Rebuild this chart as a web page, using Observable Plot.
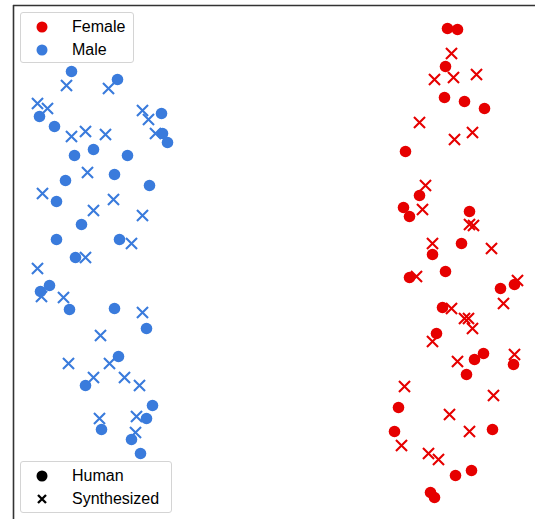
<!DOCTYPE html>
<html>
<head>
<meta charset="utf-8">
<script src="https://cdn.jsdelivr.net/npm/d3@7"></script>
<script src="https://cdn.jsdelivr.net/npm/@observablehq/plot@0.6"></script>
<style>
  html, body { margin: 0; padding: 0; background: #fff; }
  #wrap { position: relative; width: 535px; height: 519px; font-family: "Liberation Sans", Arial, sans-serif; }
  .legend { position: absolute; background: rgba(255,255,255,0.85); border: 1px solid #d4d4d4; border-radius: 3px; box-sizing: border-box; }
  .item { position: absolute; left: 0; height: 24px; display: flex; align-items: center; font-size: 16px; color: #000; white-space: nowrap; }
  .item svg { margin-left: 15px; margin-right: 24px; }
</style>
</head>
<body>
<div id="wrap"></div>
<script>
// Category labels
const genders = ["Female", "Male"];
const sources = ["Human", "Synthesized"];
const genderColors = ["#e60000", "#3a7bdc"];

// Embedding positions (x, y in plot units, y increases downward)
const maleHuman = [
  [71,71],[117,79],[39,116],[54,126],[161,113],[162,133],[167,142],[74,155],[93,149],[127,155],
  [114,174],[65,180],[149,185],[56,201],[81,224],[56,239],[119,239],[75,257],
  [40,291],[49,285],[69,309],[114,308],[146,328],[118,356],[85,385],[152,405],[146,418],
  [101,429],[131,439],[140,453]
];
const maleSynth = [
  [66,85],[108,88],[37,103],[47,108],[142,110],[148,119],[71,136],[85,131],[105,134],[155,133],
  [87,172],[42,193],[113,199],[93,210],[142,215],[131,243],[85,257],
  [37,268],[41,296],[63,297],[142,312],[100,335],[68,363],[109,363],[93,377],[124,377],[139,385],
  [99,418],[136,416],[135,432]
];
const femaleHuman = [
  [447,28],[457,29],[445,66],[444,97],[464,101],[484,108],[405,151],[419,195],[403,207],[409,216],
  [469,211],[461,243],[432,254],
  [409,277],[445,271],[500,288],[514,284],[442,307],[436,333],[483,353],[474,359],[513,364],
  [466,374],[398,407],[394,431],[492,429],[455,475],[471,470],[430,492],[434,497]
];
const femaleSynth = [
  [451,53],[434,79],[453,77],[476,74],[419,122],[454,139],[472,132],[425,185],[422,209],[469,224],
  [473,225],[432,243],[491,248],
  [416,276],[517,280],[503,303],[451,308],[464,318],[468,318],[472,328],[432,341],[457,361],[514,354],
  [404,386],[493,395],[449,414],[469,431],[401,445],[428,453],[438,459]
];

const toRows = (arr, gender, source) => arr.map(([x, y]) => ({x, y, gender, source}));
const humans = [...toRows(maleHuman, "Male", "Human"), ...toRows(femaleHuman, "Female", "Human")];
const synths = [...toRows(maleSynth, "Male", "Synthesized"), ...toRows(femaleSynth, "Female", "Synthesized")];

const W = 535, H = 519;
const chart = Plot.plot({
  width: W, height: H,
  marginLeft: 13, marginTop: 5, marginRight: 0, marginBottom: 0,
  x: {domain: [13, W], range: [13, W], axis: null},
  y: {domain: [5, H], range: [5, H], axis: null},
  color: {domain: genders, range: genderColors},
  marks: [
    Plot.ruleY([5], {stroke: "#333", strokeWidth: 1.6}),
    Plot.ruleX([13], {stroke: "#333", strokeWidth: 1.6}),
    Plot.dot(humans, {x: "x", y: "y", fill: "gender", r: 5.8, symbol: "circle"}),
    Plot.dot(synths, {x: "x", y: "y", stroke: "gender", r: 5.1, symbol: "times", strokeWidth: 2.1})
  ]
});
chart.style.position = "absolute";
chart.style.left = "0px";
chart.style.top = "0px";
const wrap = document.getElementById("wrap");
wrap.appendChild(chart);

function makeLegend(left, top, w, h, items) {
  const box = document.createElement("div");
  box.className = "legend";
  Object.assign(box.style, {left: left + "px", top: top + "px", width: w + "px", height: h + "px"});
  items.forEach((it, i) => {
    const row = document.createElement("div");
    row.className = "item";
    row.style.top = (2 + i * 23) + "px";
    const svg = d3.create("svg").attr("width", 12).attr("height", 12);
    if (it.shape === "circle") {
      svg.append("circle").attr("cx", 6).attr("cy", 6).attr("r", 5.5).attr("fill", it.color);
    } else {
      svg.append("path").attr("d", "M2,2L10,10M10,2L2,10").attr("stroke", it.color).attr("stroke-width", 2.3);
    }
    row.appendChild(svg.node());
    const t = document.createElement("span");
    t.textContent = it.label;
    row.appendChild(t);
    box.appendChild(row);
  });
  wrap.appendChild(box);
}
makeLegend(20, 12, 114, 51, genders.map((g, i) => ({label: g, color: genderColors[i], shape: "circle"})));
makeLegend(20, 461, 152, 52, sources.map((s, i) => ({label: s, color: "#000", shape: i === 0 ? "circle" : "times"})));
</script>
</body>
</html>
